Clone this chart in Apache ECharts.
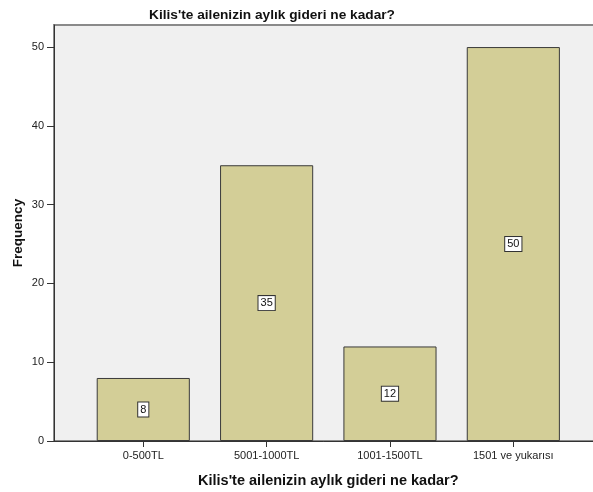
<!DOCTYPE html>
<html><head><meta charset="utf-8">
<script src="https://cdn.jsdelivr.net/npm/echarts@6/dist/echarts.min.js"></script>
<style>html,body{margin:0;padding:0;background:#fff}#c{width:593px;height:492px}</style>
</head><body><div id="c"></div>
<script>
const categories = ['0-500TL', '5001-1000TL', '1001-1500TL', '1501 ve yukarısı'];
const frequencies = [8, 35, 12, 50];
const yTicks = [0, 10, 20, 30, 40, 50];
const titleText = "Kilis'te ailenizin aylık gideri ne kadar?";
const xName = "Kilis'te ailenizin aylık gideri ne kadar?";
const yName = 'Frequency';

const FONT = 'Liberation Sans, Arial, sans-serif';
const chart = echarts.init(document.getElementById('c'), null, {renderer: 'canvas'});
chart.setOption({
  animation: false,
  textStyle: {fontFamily: FONT},
  title: {text: titleText, left: 267, top: 3, textAlign: 'center',
    textStyle: {fontFamily: FONT, fontSize: 13.7, fontWeight: 'bold', color: '#111'}},
  grid: [
    {left: 54, top: 25, right: -2, bottom: 51, show: true, backgroundColor: '#f0f0f0', borderColor: '#8a8a8a', borderWidth: 2, outerBoundsMode: 'none', containLabel: false},
    {left: 81.6, top: 25, right: 18, bottom: 51, outerBoundsMode: 'none', containLabel: false}
  ],
  xAxis: [
    {gridIndex: 0, type: 'value', min: 0, max: 1, axisLine: {show: true, onZero: false, lineStyle: {color: '#333', width: 1}},
      axisTick: {show: false}, axisLabel: {show: false}, splitLine: {show: false}},
    {gridIndex: 1, type: 'category', data: categories, boundaryGap: true,
      axisLine: {show: false}, axisTick: {show: true, alignWithLabel: true, length: 6, lineStyle: {color: '#333'}},
      axisLabel: {fontSize: 11, color: '#222', margin: 9, fontFamily: FONT},
      name: xName, nameLocation: 'middle', nameGap: 32, nameMoveOverlap: false,
      nameTextStyle: {fontSize: 14.5, fontWeight: 'bold', color: '#111', fontFamily: FONT}}
  ],
  yAxis: [
    {gridIndex: 0, type: 'value', min: 0, max: 52.8, interval: 10,
      axisLine: {show: true, lineStyle: {color: '#333'}},
      axisTick: {show: true, length: 7, customValues: yTicks, lineStyle: {color: '#333'}},
      axisLabel: {customValues: yTicks, fontSize: 11, color: '#222', margin: 10, fontFamily: FONT},
      splitLine: {show: false},
      name: yName, nameLocation: 'middle', nameGap: 29, nameRotate: 90, nameMoveOverlap: false,
      nameTextStyle: {fontSize: 13.5, fontWeight: 'bold', color: '#111', fontFamily: FONT}},
    {gridIndex: 1, type: 'value', min: 0, max: 52.8, show: false}
  ],
  series: [{
    type: 'bar', xAxisIndex: 1, yAxisIndex: 1, data: frequencies, barWidth: '75.5%',
    itemStyle: {color: '#d3ce97', borderColor: '#3a3a3a', borderWidth: 1},
    label: {show: true, position: 'inside', color: '#111', fontSize: 11, fontFamily: FONT,
      backgroundColor: '#fff', borderColor: '#333', borderWidth: 1, padding: [2, 2, 1, 2]}
  }]
});
</script></body></html>
